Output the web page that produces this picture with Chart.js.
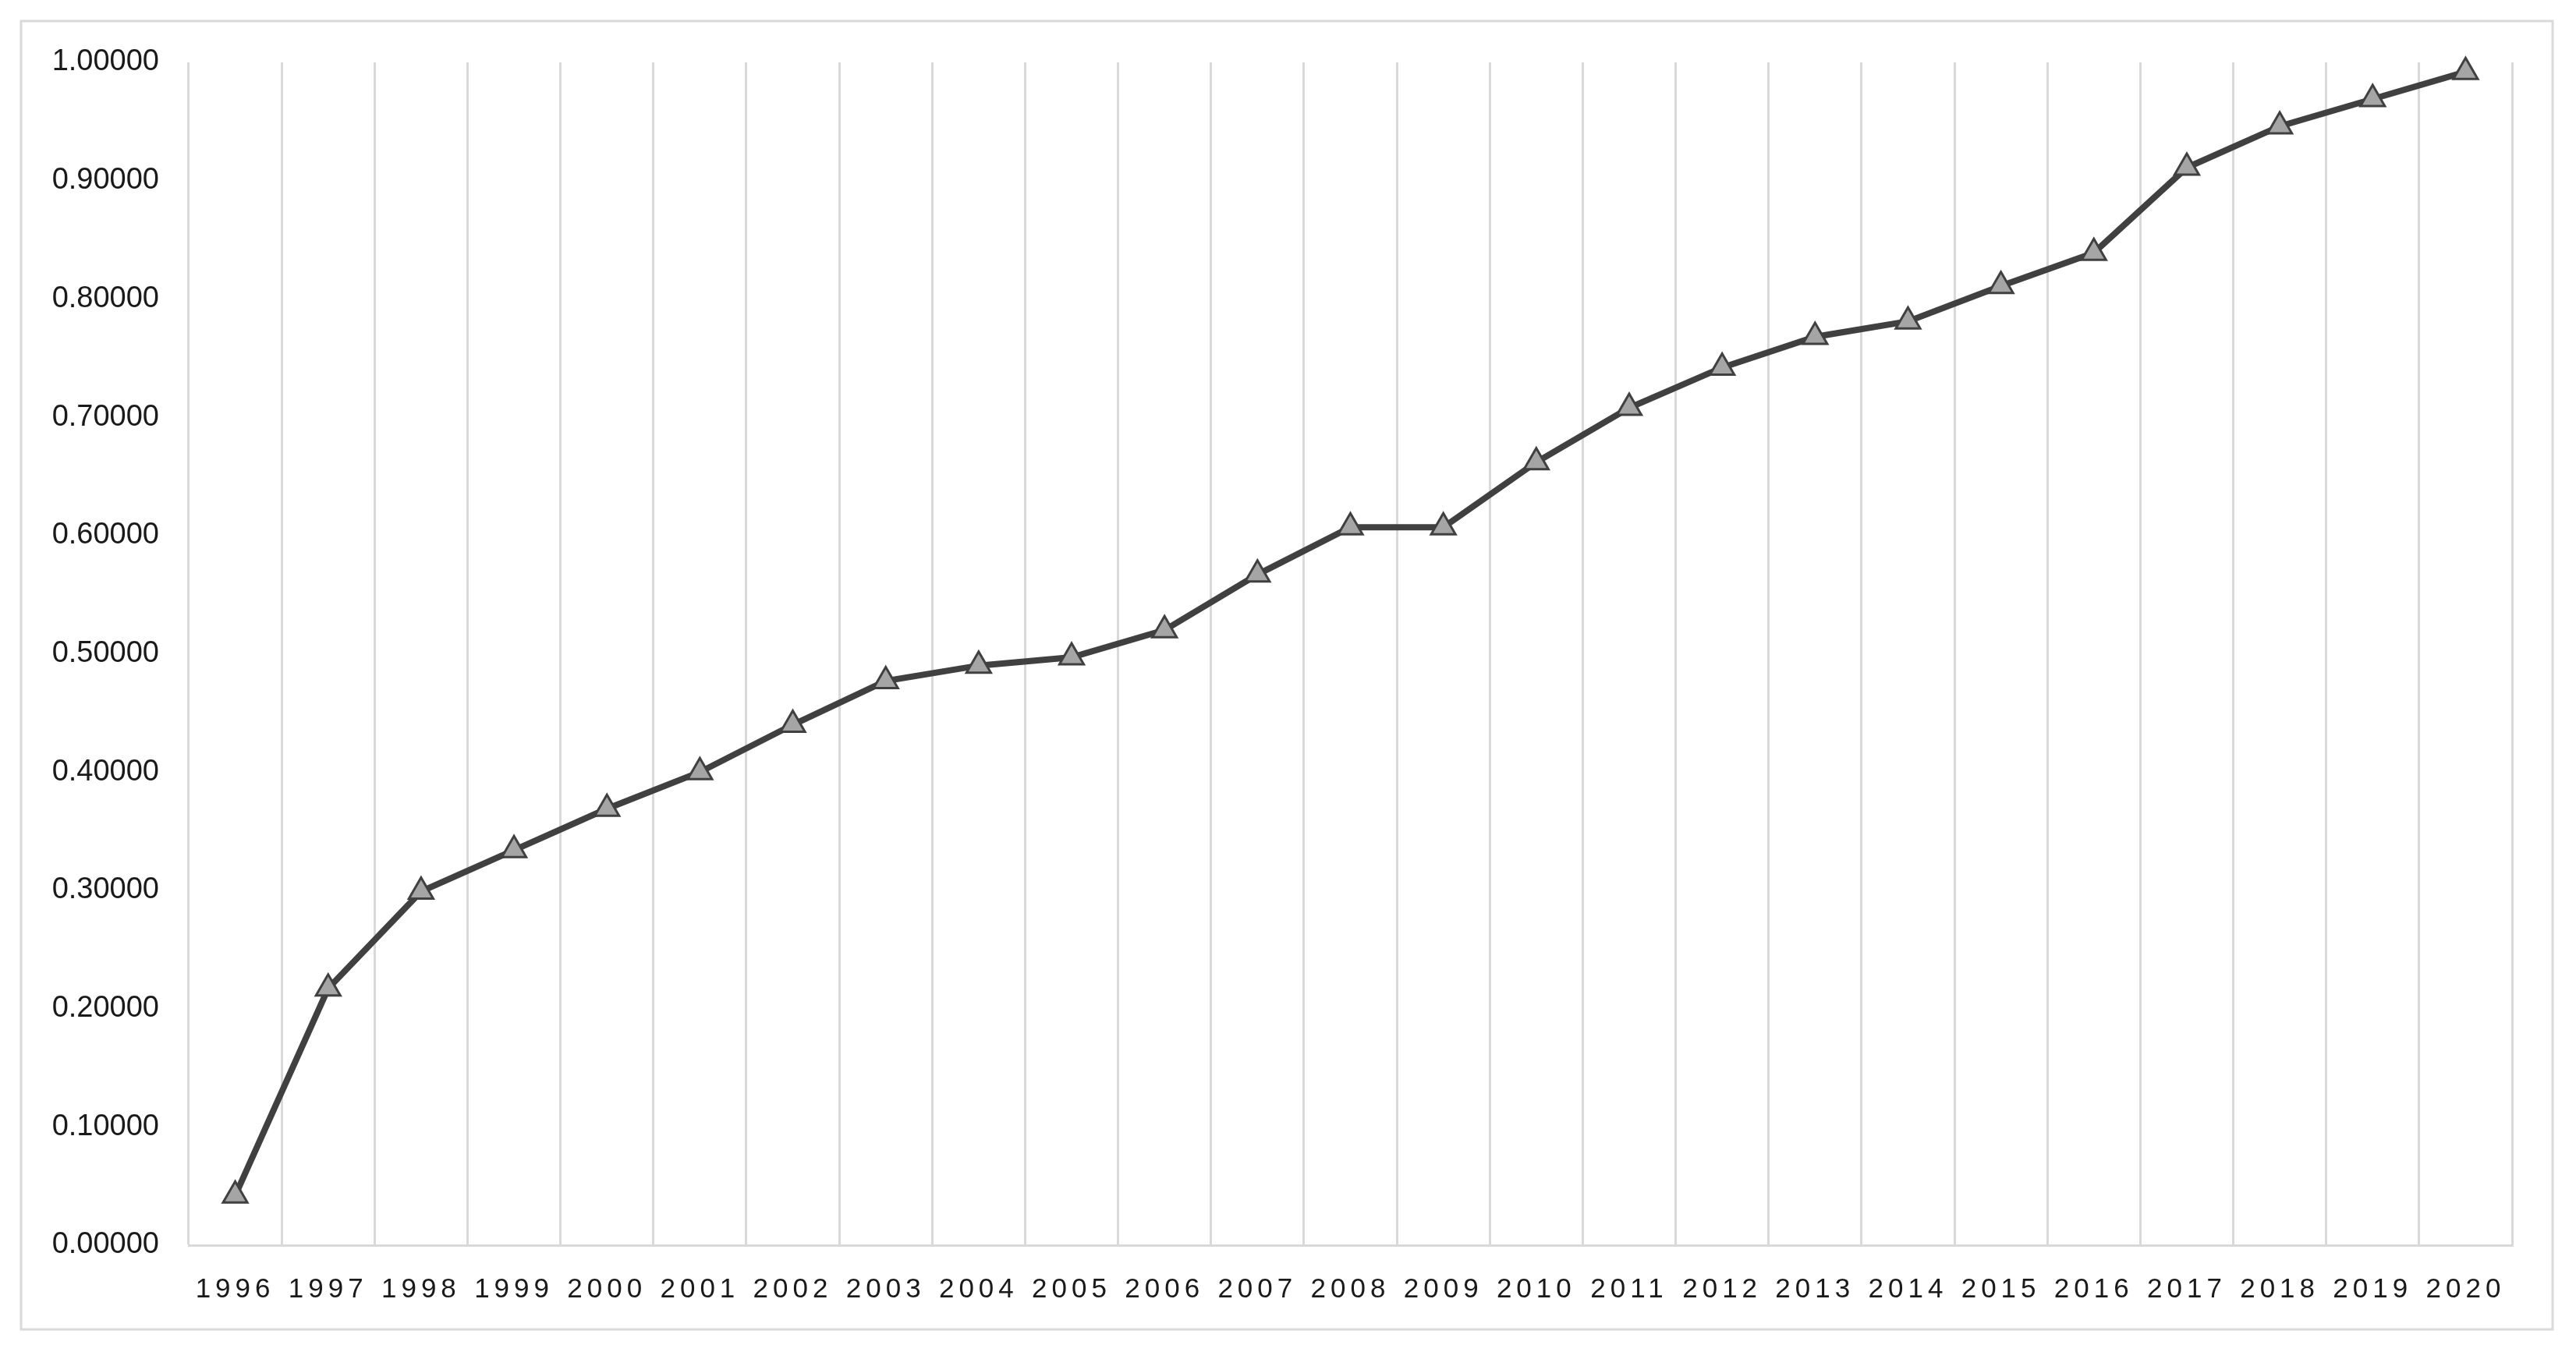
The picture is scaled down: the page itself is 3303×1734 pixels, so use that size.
<!DOCTYPE html>
<html>
<head>
<meta charset="utf-8">
<script src="https://cdn.jsdelivr.net/npm/chart.js@4"></script>
<style>
  html, body { margin: 0; padding: 0; background: #ffffff; }
  #wrap { width: 3303px; height: 1734px; position: relative; }
</style>
</head>
<body>
<div id="wrap"><canvas id="chart"></canvas></div>
<script>
const years = ["1996", "1997", "1998", "1999", "2000", "2001", "2002", "2003", "2004", "2005",
    "2006", "2007", "2008", "2009", "2010", "2011", "2012", "2013", "2014", "2015",
    "2016", "2017", "2018", "2019", "2020"];
const values = [0.042, 0.217, 0.299, 0.334, 0.369, 0.400, 0.440, 0.477, 0.490, 0.497,
    0.520, 0.567, 0.607, 0.607, 0.662, 0.708, 0.742, 0.768, 0.781, 0.811,
    0.839, 0.911, 0.946, 0.969, 0.992];
const yMin = 0;
const yMax = 1;
const yStep = 0.1;

const gridColor = "#d9d9d9";
const lineColor = "#404040";
const markerFill = "#a5a5a5";
const textColor = "#1a1a1a";
const xLabelSpacing = 6;

// category axis that spaces out the year digits like the original
class SpacedCategoryScale extends Chart.CategoryScale {
    drawLabels(chartArea) {
        const ctx = this.ctx;
        ctx.save();
        ctx.letterSpacing = xLabelSpacing + "px";
        super.drawLabels(chartArea);
        ctx.restore();
    }
}
SpacedCategoryScale.id = "spacedCategory";
SpacedCategoryScale.defaults = Chart.CategoryScale.defaults;
Chart.register(SpacedCategoryScale);

const outerBorder = {
    id: "outerBorder",
    beforeDraw(chart) {
        const ctx = chart.ctx;
        ctx.save();
        ctx.fillStyle = "#ffffff";
        ctx.fillRect(0, 0, chart.width, chart.height);
        ctx.strokeStyle = gridColor;
        ctx.lineWidth = 3;
        ctx.strokeRect(27, 27, 3273 - 27, 1705 - 27);
        ctx.restore();
    },
};

const ctx = document.getElementById("chart").getContext("2d");
new Chart(ctx, {
    type: "line",
    data: {
        labels: years,
        datasets: [
            {
                data: values,
                borderColor: lineColor,
                borderWidth: 8,
                pointStyle: "triangle",
                pointRadius: 18,
                pointBackgroundColor: markerFill,
                pointBorderColor: lineColor,
                pointBorderWidth: 3,
                tension: 0,
                clip: false,
            },
        ],
    },
    options: {
        responsive: true,
        maintainAspectRatio: false,
        animation: false,
        layout: { padding: { left: 0, top: 80, right: 82, bottom: 0 } },
        plugins: {
            legend: { display: false },
            tooltip: { enabled: false },
        },
        scales: {
            x: {
                type: "spacedCategory",
                offset: true,
                grid: {
                    offset: true,
                    color: gridColor,
                    lineWidth: 3,
                    drawTicks: false,
                },
                border: { display: true, color: gridColor, width: 3 },
                ticks: {
                    color: textColor,
                    font: { family: "'Liberation Sans', Arial, sans-serif", size: 35 },
                    padding: 36,
                    autoSkip: false,
                    maxRotation: 0,
                    minRotation: 0,
                },
                afterFit(scale) {
                    scale.height = 137;
                },
            },
            y: {
                min: yMin,
                max: yMax,
                grid: { display: false, drawTicks: false },
                border: { display: false },
                ticks: {
                    stepSize: yStep,
                    color: textColor,
                    font: { family: "'Liberation Sans', Arial, sans-serif", size: 38 },
                    padding: 38,
                    callback: (v) => Number(v).toFixed(5),
                },
                afterFit(scale) {
                    scale.width = 242;
                },
            },
        },
    },
    plugins: [outerBorder],
});
</script>
</body>
</html>
